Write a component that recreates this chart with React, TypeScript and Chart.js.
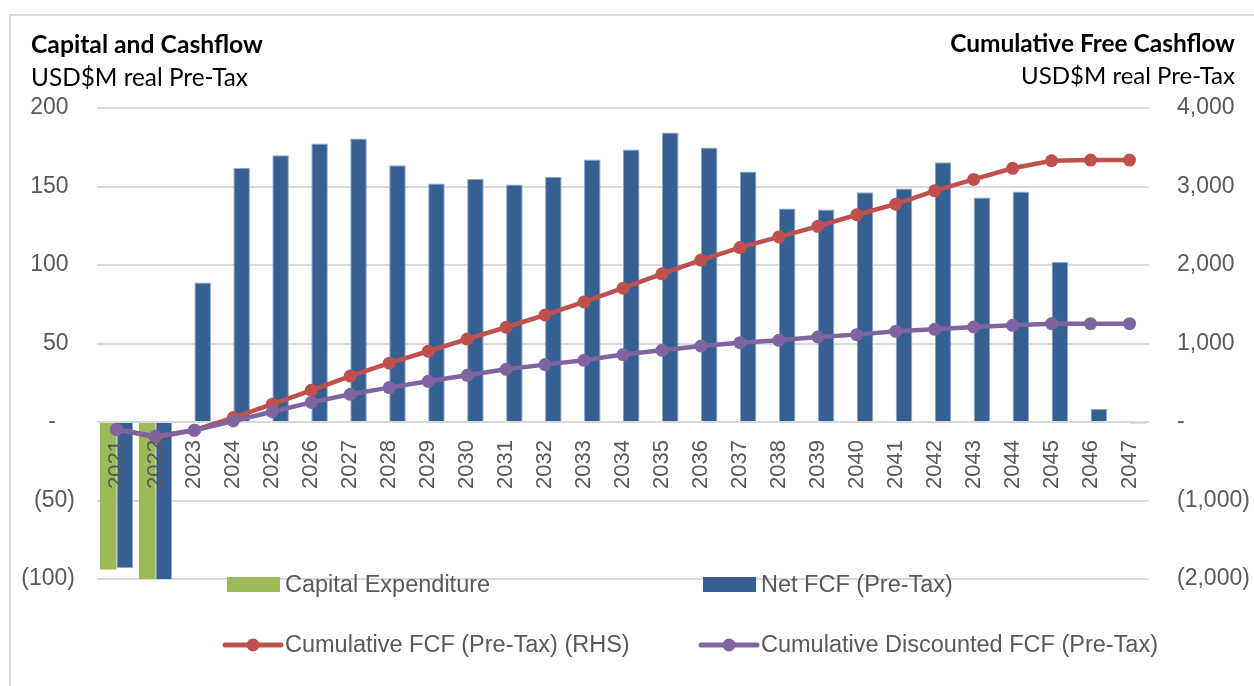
import React, { useEffect, useRef } from 'react';
import { Chart, registerables } from 'chart.js';

Chart.register(...registerables);

const years = [
  '2021', '2022', '2023', '2024', '2025', '2026', '2027', '2028', '2029',
  '2030', '2031', '2032', '2033', '2034', '2035', '2036', '2037', '2038',
  '2039', '2040', '2041', '2042', '2043', '2044', '2045', '2046', '2047',
];

const capitalExpenditure = [
  -94, -101, null, null, null, null, null, null, null,
  null, null, null, null, null, null, null, null, null,
  null, null, null, null, null, null, null, null, null,
];

const netFcf = [
  -93, -101, 88.8, 161.8, 169.9, 177.4, 180.5, 163.5, 151.9,
  154.8, 151.2, 156.1, 167.2, 173.5, 184.4, 174.8, 159.5, 136,
  135.3, 146.3, 148.7, 165.4, 143, 146.8, 101.9, 8.5, -1,
];

const cumulativeFcf = [
  -93, -194, -105, 57, 227, 404, 585, 749, 901,
  1056, 1207, 1363, 1530, 1704, 1888, 2063, 2222, 2358,
  2493, 2640, 2775, 2945, 3090, 3232, 3328, 3336, 3336,
];

const cumulativeDiscountedFcf = [
  -95, -182, -106, 13, 131, 250, 353, 438, 518,
  595, 671, 731, 786, 859, 913, 968, 1011, 1041,
  1083, 1113, 1155, 1181, 1210, 1232, 1253, 1253, 1253,
];

const seriesLabels = [
  'Capital Expenditure',
  'Net FCF (Pre-Tax)',
  'Cumulative FCF (Pre-Tax) (RHS)',
  'Cumulative Discounted FCF (Pre-Tax)',
];

const leftTitle = 'Capital and Cashflow';
const rightTitle = 'Cumulative Free Cashflow';
const unitsLabel = 'USD$M real Pre-Tax';

const GREEN = '#9BBB59';
const BLUE = '#366092';
const RED = '#C0504D';
const PURPLE = '#8064A2';
const TEXT = '#595959';
const GRID = '#D9D9D9';
const TICK_FONT = 'Liberation Sans, Arial, sans-serif';
const TITLE_FONT = 'Lato, "Open Sans", sans-serif';

function fmtThousands(n: number) {
  return Math.round(n).toString().replace(/\B(?=(\d{3})+(?!\d))/g, ',');
}

function fitFont(ctx: CanvasRenderingContext2D, text: string, weight: string, family: string, targetW: number) {
  ctx.font = `${weight} 100px ${family}`;
  const w = ctx.measureText(text).width;
  const size = (100 * targetW) / w;
  return `${weight} ${size.toFixed(2)}px ${family}`;
}

const decorPlugin = {
  id: 'decor',
  beforeDraw(chart: any) {
    const ctx = chart.ctx as CanvasRenderingContext2D;
    ctx.save();
    ctx.fillStyle = '#ffffff';
    ctx.fillRect(0, 0, chart.width, chart.height);
    ctx.strokeStyle = GRID;
    ctx.lineWidth = 2;
    ctx.beginPath();
    ctx.moveTo(10, chart.height);
    ctx.lineTo(10, 15);
    ctx.lineTo(chart.width, 15);
    ctx.stroke();
    ctx.restore();
  },
  afterDraw(chart: any) {
    const ctx = chart.ctx as CanvasRenderingContext2D;
    ctx.save();
    ctx.fillStyle = '#000000';
    ctx.textBaseline = 'alphabetic';
    // titles
    ctx.textAlign = 'left';
    ctx.font = fitFont(ctx, leftTitle, 'bold', TITLE_FONT, 232);
    ctx.fillText(leftTitle, 31, 53);
    ctx.font = fitFont(ctx, unitsLabel, 'normal', TITLE_FONT, 217);
    ctx.fillText(unitsLabel, 31, 86);
    ctx.textAlign = 'right';
    ctx.font = fitFont(ctx, rightTitle, 'bold', TITLE_FONT, 285);
    ctx.fillText(rightTitle, 1235, 52);
    ctx.font = fitFont(ctx, unitsLabel, 'normal', TITLE_FONT, 214);
    ctx.fillText(unitsLabel, 1235, 84);

    // legend
    const cols = [227, 703];
    const rows = [585, 645];
    ctx.textAlign = 'left';
    ctx.font = `23.5px ${TICK_FONT}`;
    chart.data.datasets.forEach((ds: any, i: number) => {
      const x = cols[i % 2];
      const y = rows[Math.floor(i / 2)];
      const color = ds.legendColor;
      if (ds.type === 'bar') {
        ctx.fillStyle = color;
        ctx.fillRect(x, y - 8, 53, 15);
      } else {
        ctx.strokeStyle = color;
        ctx.lineWidth = 5;
        ctx.lineCap = 'round';
        ctx.beginPath();
        ctx.moveTo(x - 2, y);
        ctx.lineTo(x + 54, y);
        ctx.stroke();
        ctx.fillStyle = color;
        ctx.beginPath();
        ctx.arc(x + 26, y, 6.5, 0, Math.PI * 2);
        ctx.fill();
      }
      ctx.fillStyle = TEXT;
      ctx.fillText(ds.label, x + 58, y + 7);
    });
    ctx.restore();
  },
};

export default function App() {
  const canvasRef = useRef<HTMLCanvasElement | null>(null);

  useEffect(() => {
    const canvas = canvasRef.current;
    if (!canvas) return;
    const chart = new Chart(canvas, {
      type: 'bar',
      data: {
        labels: years,
        datasets: [
          {
            type: 'bar',
            label: seriesLabels[0],
            data: capitalExpenditure,
            backgroundColor: GREEN,
            legendColor: GREEN,
            yAxisID: 'y',
            order: 2,
            categoryPercentage: 0.85,
            barPercentage: 1,
          } as any,
          {
            type: 'bar',
            label: seriesLabels[1],
            data: netFcf,
            backgroundColor: BLUE,
            borderColor: '#8EA6C6',
            borderWidth: 1,
            legendColor: BLUE,
            yAxisID: 'y',
            order: 3,
            categoryPercentage: 0.85,
            barPercentage: 1,
          } as any,
          {
            type: 'line',
            label: seriesLabels[2],
            data: cumulativeFcf,
            borderColor: RED,
            backgroundColor: RED,
            legendColor: RED,
            borderWidth: 4.5,
            pointRadius: 6.5,
            pointBorderWidth: 0,
            pointBackgroundColor: RED,
            yAxisID: 'y1',
            order: 1,
            tension: 0,
          } as any,
          {
            type: 'line',
            label: seriesLabels[3],
            data: cumulativeDiscountedFcf,
            borderColor: PURPLE,
            backgroundColor: PURPLE,
            legendColor: PURPLE,
            borderWidth: 4.5,
            pointRadius: 6.5,
            pointBorderWidth: 0,
            pointBackgroundColor: PURPLE,
            yAxisID: 'y1',
            order: 0,
            tension: 0,
          } as any,
        ],
      },
      options: {
        responsive: false,
        animation: false,
        layout: { padding: { left: 0, right: 0, top: 108, bottom: 107 } },
        plugins: {
          legend: { display: false },
          title: { display: false },
          tooltip: { enabled: false },
        },
        scales: {
          x: {
            position: { y: 0 } as any,
            offset: true,
            grid: { display: false, drawTicks: false },
            border: { display: false },
            ticks: {
              z: 1,
              autoSkip: false,
              minRotation: 90,
              maxRotation: 90,
              padding: 18,
              color: TEXT,
              font: { family: TICK_FONT, size: 22 },
            },
          },
          y: {
            position: 'left',
            min: -100,
            max: 200,
            grid: { color: GRID, lineWidth: 2, drawTicks: false },
            border: { display: false },
            ticks: {
              stepSize: 50,
              padding: 22,
              color: TEXT,
              font: { family: TICK_FONT, size: 23 },
              callback: (v: any) => {
                const n = Number(v);
                if (n === 0) return '-\u2007\u2008';
                if (n < 0) return `(${fmtThousands(-n)})`;
                return `${fmtThousands(n)}\u2008`;
              },
            },
            afterFit: (scale: any) => {
              scale.width = 97;
            },
          },
          y1: {
            position: 'right',
            min: -2000,
            max: 4000,
            grid: { display: false, drawTicks: false },
            border: { display: false },
            ticks: {
              stepSize: 1000,
              padding: 28,
              color: TEXT,
              font: { family: TICK_FONT, size: 23 },
              callback: (v: any) => {
                const n = Number(v);
                if (n === 0) return '-';
                if (n < 0) return `(${fmtThousands(-n)})`;
                return fmtThousands(n);
              },
            },
            afterFit: (scale: any) => {
              scale.width = 105;
            },
          },
        },
      } as any,
      plugins: [decorPlugin],
    });
    return () => chart.destroy();
  }, []);

  return (
    <div style={{ position: 'absolute', left: 0, top: 0, width: 1254, height: 686, background: '#fff' }}>
      <canvas ref={canvasRef} width={1254} height={686} style={{ display: 'block' }} />
    </div>
  );
}
